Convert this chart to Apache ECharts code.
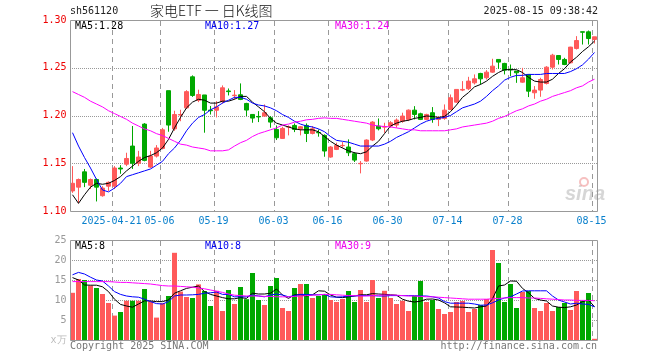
<!DOCTYPE html>
<html>
<head>
<meta charset="utf-8">
<script src="https://cdn.jsdelivr.net/npm/echarts@6/dist/echarts.min.js"></script>
<style>
html,body{margin:0;padding:0;background:#fff;}
#c{width:660px;height:360px;}
</style>
</head>
<body>
<div id="c"></div>
<script>
const dates = [
'2025-04-10','2025-04-11','2025-04-14','2025-04-15','2025-04-16','2025-04-17','2025-04-18',
'2025-04-21','2025-04-22','2025-04-23','2025-04-24','2025-04-25','2025-04-28','2025-04-29','2025-04-30',
'2025-05-06','2025-05-07','2025-05-08','2025-05-09','2025-05-12','2025-05-13','2025-05-14','2025-05-15','2025-05-16',
'2025-05-19','2025-05-20','2025-05-21','2025-05-22','2025-05-23','2025-05-26','2025-05-27','2025-05-28','2025-05-29','2025-05-30',
'2025-06-03','2025-06-04','2025-06-05','2025-06-06','2025-06-09','2025-06-10','2025-06-11','2025-06-12','2025-06-13',
'2025-06-16','2025-06-17','2025-06-18','2025-06-19','2025-06-20','2025-06-23','2025-06-24','2025-06-25','2025-06-26','2025-06-27',
'2025-06-30','2025-07-01','2025-07-02','2025-07-03','2025-07-04','2025-07-07','2025-07-08','2025-07-09','2025-07-10','2025-07-11',
'2025-07-14','2025-07-15','2025-07-16','2025-07-17','2025-07-18','2025-07-21','2025-07-22','2025-07-23','2025-07-24','2025-07-25',
'2025-07-28','2025-07-29','2025-07-30','2025-07-31','2025-08-01','2025-08-04','2025-08-05','2025-08-06','2025-08-07','2025-08-08',
'2025-08-11','2025-08-12','2025-08-13','2025-08-14','2025-08-15'
];
const labelDates = ['2025-04-21','2025-05-06','2025-05-19','2025-06-03','2025-06-16','2025-06-30','2025-07-14','2025-07-28','2025-08-15'];
const priceTicks = [1.15, 1.20, 1.25];
const volTicks = [5, 10, 15, 20];

const openP = [
1.121,1.125,1.141,1.127,1.133,1.116,1.126,1.126,1.145,1.149,
1.168,1.150,1.191,1.146,1.1575,1.1655,1.226,1.186,1.2005,1.208,
1.2405,1.216,1.2215,1.2057,1.2055,1.2145,1.2257,1.2208,1.2217,1.2126,
1.2011,1.1990,1.1994,1.1976,1.1854,1.1760,1.1879,1.1896,1.1861,1.1896,
1.1812,1.1822,1.1792,1.1565,1.1645,1.1684,1.1670,1.1600,1.1495,1.1523,
1.1743,1.1889,1.1879,1.1889,1.1900,1.1941,1.1959,1.2056,1.2018,1.1959,
1.2029,1.1959,1.1969,1.2063,1.2140,1.2266,1.2280,1.2342,1.2440,1.2395,
1.2454,1.2587,1.2545,1.2485,1.2465,1.2349,1.2430,1.2238,1.2266,1.2335,
1.2506,1.2628,1.2587,1.2552,1.2702,1.2877,1.2876,1.2796
];
const closeP = [
1.129,1.133,1.130,1.133,1.125,1.124,1.130,1.145,1.144,1.155,
1.150,1.1565,1.153,1.1575,1.166,1.185,1.190,1.201,1.201,1.225,
1.221,1.222,1.2055,1.205,1.209,1.229,1.2250,1.2213,1.2168,1.2057,
1.1973,1.1985,1.2029,1.1931,1.1767,1.1865,1.1882,1.1854,1.1882,1.1812,
1.1861,1.1819,1.1628,1.1670,1.1687,1.1687,1.1610,1.1533,1.1499,1.1743,
1.1931,1.1861,1.1882,1.1924,1.1952,1.1994,1.2056,1.2011,1.1959,1.2011,
1.1959,1.1976,1.2056,1.2186,1.2273,1.2273,1.2360,1.2384,1.2384,1.2454,
1.2517,1.2559,1.2475,1.2478,1.2447,1.2395,1.2255,1.2266,1.2377,1.2506,
1.2632,1.2587,1.2534,1.2716,1.2785,1.2872,1.2806,1.2824
];
const lowP = [
1.119,1.108,1.125,1.123,1.110,1.115,1.121,1.123,1.139,1.147,
1.144,1.147,1.152,1.145,1.156,1.1645,1.183,1.184,1.194,1.207,
1.2195,1.214,1.182,1.201,1.198,1.2125,1.221,1.2168,1.2161,1.1994,
1.1924,1.1931,1.1987,1.1872,1.1743,1.1757,1.1792,1.1826,1.1792,1.1722,
1.1802,1.1778,1.1568,1.1558,1.1638,1.1663,1.1575,1.1513,1.1394,1.1516,
1.1732,1.1844,1.1819,1.1872,1.1872,1.1924,1.1941,1.1959,1.1952,1.1952,
1.1924,1.1889,1.1955,1.2056,1.2133,1.2255,1.2266,1.2325,1.2325,1.2377,
1.2447,1.2489,1.2430,1.2412,1.2342,1.2342,1.2193,1.2175,1.2196,1.2325,
1.2482,1.2534,1.2527,1.2545,1.2691,1.2743,1.2743,1.2754
];
const highP = [
1.147,1.134,1.144,1.134,1.134,1.126,1.131,1.147,1.148,1.161,
1.189,1.163,1.192,1.163,1.169,1.187,1.226,1.205,1.206,1.2265,
1.242,1.227,1.2215,1.210,1.215,1.2315,1.2283,1.2266,1.2336,1.2133,
1.2011,1.2046,1.2116,1.1994,1.1896,1.1882,1.1896,1.1917,1.1889,1.1917,
1.1889,1.1854,1.1802,1.1680,1.1715,1.1722,1.1750,1.1617,1.1523,1.1750,
1.1941,1.1969,1.1924,1.1941,1.1969,1.2029,1.2063,1.2098,1.2029,1.2018,
1.2088,1.1994,1.2116,1.2220,1.2273,1.2360,1.2405,1.2430,1.2447,1.2475,
1.2594,1.2587,1.2552,1.2534,1.2465,1.2499,1.2430,1.2308,1.2395,1.2517,
1.2646,1.2628,1.2604,1.2719,1.2831,1.2877,1.2890,1.2824
];
const ma5 = [
1.117,1.108,1.117,1.125,1.129,1.128,1.129,1.132,1.136,1.142,
1.147,1.152,1.156,1.158,1.161,1.166,1.175,1.187,1.198,1.208,
1.214,1.217,1.216,1.213,1.213,1.215,1.215,1.217,1.220,1.220,
1.214,1.209,1.204,1.197,1.192,1.190,1.188,1.186,1.185,1.185,
1.185,1.183,1.178,1.173,1.169,1.166,1.163,1.161,1.160,1.162,
1.168,1.173,1.181,1.189,1.192,1.194,1.195,1.197,1.198,1.1995,
1.199,1.198,1.199,1.204,1.211,1.219,1.224,1.230,1.2325,1.236,
1.241,1.245,1.248,1.248,1.248,1.245,1.240,1.236,1.235,1.235,
1.238,1.244,1.249,1.256,1.261,1.267,1.272,1.278
];
const ma10 = [
1.182,1.168,1.156,1.145,1.133,1.122,1.120,1.124,1.129,1.136,
1.138,1.140,1.142,1.144,1.148,1.152,1.160,1.166,1.174,1.184,
1.192,1.198,1.201,1.206,1.209,1.213,1.216,1.219,1.219,1.217,
1.213,1.211,1.210,1.208,1.205,1.201,1.198,1.194,1.191,1.189,
1.188,1.186,1.183,1.178,1.174,1.173,1.172,1.170,1.168,1.168,
1.168,1.168,1.170,1.173,1.177,1.180,1.183,1.187,1.191,1.194,
1.196,1.197,1.198,1.200,1.204,1.208,1.210,1.212,1.215,1.220,
1.226,1.231,1.237,1.240,1.242,1.242,1.243,1.243,1.243,1.244,
1.244,1.244,1.244,1.246,1.249,1.253,1.259,1.266
];
const ma30 = [
1.225,1.222,1.219,1.215,1.212,1.209,1.205,1.202,1.199,1.196,
1.192,1.189,1.186,1.184,1.181,1.179,1.176,1.173,1.170,1.169,
1.167,1.166,1.165,1.163,1.163,1.163,1.164,1.168,1.1715,1.174,
1.178,1.181,1.183,1.185,1.187,1.190,1.191,1.193,1.194,1.1955,
1.196,1.197,1.1975,1.197,1.197,1.196,1.195,1.194,1.193,1.192,
1.190,1.189,1.1885,1.188,1.187,1.186,1.185,1.185,1.184,1.184,
1.184,1.184,1.184,1.185,1.186,1.188,1.189,1.190,1.191,1.192,
1.194,1.197,1.199,1.202,1.205,1.207,1.210,1.212,1.215,1.217,
1.220,1.222,1.224,1.226,1.229,1.231,1.235,1.238
];
const volume = [
11.8,15.25,15.0,13.6,13.0,11.5,9.25,6.1,7.0,9.8,
9.8,9.8,12.75,9.6,5.6,9.2,11.0,21.8,12.1,10.75,
10.5,13.9,12.25,8.5,12.3,7.25,12.5,9.0,13.25,10.2,
16.75,10.0,8.75,13.5,15.5,8.0,7.25,13.0,14.0,14.0,
10.5,11.0,11.5,10.0,9.5,10.25,12.25,9.5,12.5,9.5,
15.0,10.5,12.3,10.5,9.0,9.8,7.25,11.0,14.75,9.5,
10.0,7.75,6.5,7.0,9.5,9.75,7.0,7.75,8.75,10.25,
22.5,19.25,9.5,14.0,8.0,12.0,12.25,8.0,7.25,9.25,
7.25,8.25,9.25,7.5,12.25,9.75,11.75,0.3
];
const volMa5 = [
15.6,15.0,13.75,13.7,13.7,13.3,12.1,10.2,8.9,8.5,
8.2,9.0,9.8,9.75,9.6,9.6,10.0,11.7,12.3,12.9,
13.2,13.5,12.1,11.4,11.0,10.6,10.3,10.3,10.6,10.4,
11.7,11.5,11.5,11.7,12.75,11.25,10.4,11.3,11.3,11.0,
11.3,12.3,12.2,11.25,10.7,10.6,10.8,11.0,11.3,11.3,
11.6,11.5,11.4,11.3,11.2,10.2,9.7,9.5,9.7,10.2,
10.25,10.0,9.3,8.3,8.25,8.2,8.1,8.0,8.3,8.5,
10.3,13.5,13.75,14.75,14.7,12.9,11.8,10.4,10.0,9.75,
8.5,8.2,8.1,8.3,8.75,9.6,10.0,8.3
];
const volMa10 = [
16.3,16.9,16.5,15.7,15.0,14.75,13.5,12.1,11.4,11.0,
10.8,10.7,10.2,9.6,9.1,9.0,9.6,11.0,11.25,11.25,
11.3,11.4,11.7,11.8,12.0,11.4,11.4,10.8,10.8,10.8,
11.25,11.0,10.8,11.25,11.5,11.25,10.8,11.1,11.4,11.4,
11.3,11.3,11.4,10.8,10.7,10.8,11.0,11.0,11.1,11.1,
11.1,11.0,11.0,11.1,11.1,11.1,11.1,11.1,11.0,11.0,
10.8,10.5,9.6,9.2,9.2,9.2,9.2,9.0,8.7,8.75,
9.3,10.0,10.5,10.8,11.5,12.25,12.3,12.3,12.3,12.3,
11.0,10.0,9.5,9.0,9.2,9.0,8.9,8.3
];
const volMa30 = [
14.6,14.6,14.6,14.6,14.6,14.6,14.6,14.5,14.4,14.4,
14.3,14.2,14.1,14.0,13.8,13.6,13.5,13.5,13.4,13.3,
13.2,13.0,12.8,12.5,12.2,11.9,11.5,11.2,11.1,11.0,
11.0,11.0,10.9,10.9,10.8,10.8,10.8,10.9,11.0,11.1,
11.2,11.3,11.4,11.4,11.3,11.2,11.1,11.1,11.0,11.0,
11.1,11.2,11.25,11.25,11.2,11.1,11.0,11.0,10.9,10.8,
10.8,10.7,10.6,10.5,10.4,10.3,10.2,10.2,10.2,10.2,
10.3,10.4,10.5,10.6,10.6,10.6,10.5,10.5,10.4,10.3,
10.2,10.1,10.0,10.0,9.9,9.9,9.9,9.8
];

const UP = '#ff5a5a', DOWN = '#00a800';
const MONO = '"DejaVu Sans Mono", "Liberation Mono", monospace';
const GRIDC = '#999999';
const gridLeft = 69.5, gridWidth = 528;

const candleData = dates.map((d, i) => [openP[i], closeP[i], lowP[i], highP[i]]);
const volData = volume.map((v, i) => ({
  value: v,
  itemStyle: { color: closeP[i] >= openP[i] ? UP : DOWN }
}));
const labelIdx = labelDates.map(d => dates.indexOf(d));
const isLabel = (idx) => labelDates.indexOf(dates[idx]) >= 0;

function xAxisCfg(gi, showLabel) {
  return {
    type: 'category', gridIndex: gi, data: dates, boundaryGap: true,
    axisLine: { show: false }, axisTick: { show: false }, splitLine: { show: false },
    axisLabel: {
      show: showLabel, interval: (idx) => isLabel(idx),
      formatter: (v) => (v === labelDates[0] ? v : v.slice(5)),
      color: '#0a80cc', fontFamily: MONO, fontSize: 10, margin: 5,
      padding: [0, 6, 0, 0]
    }
  };
}

function frame(ai, yVal) {
  return {
    type: 'custom', xAxisIndex: ai, yAxisIndex: ai, silent: true, z: 12,
    data: [[0, yVal]],
    renderItem: (params, api) => {
      const cs = params.coordSys;
      return { type: 'rect',
        shape: { x: Math.round(cs.x) + 0.5, y: Math.round(cs.y) + 0.5, width: Math.round(cs.width) - 1, height: Math.round(cs.height) },
        style: { fill: 'none', stroke: '#999999', lineWidth: 1 } };
    }
  };
}

const textGraphics = [
  { type: 'text', left: 70, top: 6, style: { text: 'sh561120', fill: '#222', font: '10px ' + MONO } },
  { type: 'text', left: 150, top: 4, style: { text: '家电ETF 一 日K线图', fill: '#111', font: '300 14px "Noto Sans CJK SC"' } },
  { type: 'text', right: 62, top: 6, style: { text: '2025-08-15 09:38:42', fill: '#222', font: '10px ' + MONO } },
  { type: 'text', left: 75, top: 21, z: 20, style: { text: 'MA5:1.28', fill: '#000', font: '10px ' + MONO } },
  { type: 'text', left: 205, top: 21, z: 20, style: { text: 'MA10:1.27', fill: '#0000ee', font: '10px ' + MONO } },
  { type: 'text', left: 335, top: 21, z: 20, style: { text: 'MA30:1.24', fill: '#ee00ee', font: '10px ' + MONO } },
  { type: 'text', left: 75, top: 241, z: 20, style: { text: 'MA5:8', fill: '#000', font: '10px ' + MONO } },
  { type: 'text', left: 205, top: 241, z: 20, style: { text: 'MA10:8', fill: '#0000ee', font: '10px ' + MONO } },
  { type: 'text', left: 335, top: 241, z: 20, style: { text: 'MA30:9', fill: '#ee00ee', font: '10px ' + MONO } },
  { type: 'text', left: 70, top: 341, style: { text: 'Copyright 2025 SINA.COM', fill: '#777', font: '10px ' + MONO } },
  { type: 'text', right: 63, top: 341, style: { text: 'http://finance.sina.com.cn', fill: '#777', font: '10px ' + MONO } },
  { type: 'text', left: 565, top: 184, z: 1, style: { text: 'sina', fill: 'rgba(200,200,200,0.75)', font: 'italic bold 20px "Liberation Sans"' } },
  { type: 'circle', shape: { cx: 584, cy: 182, r: 4 }, z: 1, style: { fill: 'none', stroke: 'rgba(240,150,150,0.6)', lineWidth: 2 } }
];

const chart = echarts.init(document.getElementById('c'), null, { renderer: 'canvas' });
chart.setOption({
  animation: false,
  backgroundColor: '#ffffff',
  grid: [
    { left: gridLeft, top: 20, width: gridWidth, height: 191, show: false },
    { left: gridLeft, top: 240, width: gridWidth, height: 100, show: false }
  ],
  xAxis: [xAxisCfg(0, true), xAxisCfg(1, false)],
  yAxis: [
    {
      type: 'value', gridIndex: 0, min: 1.10, max: 1.30, interval: 0.05,
      axisLine: { show: false }, axisTick: { show: false }, splitLine: { show: false },
      axisLabel: { color: '#ee0000', fontFamily: MONO, fontSize: 10, margin: 3, formatter: (v) => v.toFixed(2) }
    },
    {
      type: 'value', gridIndex: 1, min: 0, max: 25, interval: 5,
      axisLine: { show: false }, axisTick: { show: false }, splitLine: { show: false },
      axisLabel: {
        color: '#999999', fontFamily: MONO, fontSize: 10, margin: 3,
        formatter: (v) => (v === 0 ? '{u|x万}' : String(v)),
        rich: { u: { color: '#bbbbbb', fontFamily: MONO, fontSize: 10 } }
      }
    }
  ],
  series: [
    frame(0, 1.2), frame(1, 10),
    {
      type: 'candlestick', xAxisIndex: 0, yAxisIndex: 0, data: candleData, barWidth: 4,
      itemStyle: { color: UP, color0: DOWN, borderColor: UP, borderColor0: DOWN, borderWidth: 1 },
      z: 8
    },
    { type: 'line', xAxisIndex: 0, yAxisIndex: 0, data: ma5, symbol: 'none', lineStyle: { color: '#000000', width: 1 }, z: 9 },
    { type: 'line', xAxisIndex: 0, yAxisIndex: 0, data: ma10, symbol: 'none', lineStyle: { color: '#0000ff', width: 1 }, z: 9 },
    { type: 'line', xAxisIndex: 0, yAxisIndex: 0, data: ma30, symbol: 'none', lineStyle: { color: '#ff00ff', width: 1 }, z: 9 },
    { type: 'bar', xAxisIndex: 1, yAxisIndex: 1, data: volData, barWidth: 5, z: 8 },
    { type: 'line', xAxisIndex: 1, yAxisIndex: 1, data: volMa5, symbol: 'none', lineStyle: { color: '#000000', width: 1 }, z: 9 },
    { type: 'line', xAxisIndex: 1, yAxisIndex: 1, data: volMa10, symbol: 'none', lineStyle: { color: '#0000ff', width: 1 }, z: 9 },
    { type: 'line', xAxisIndex: 1, yAxisIndex: 1, data: volMa30, symbol: 'none', lineStyle: { color: '#ff00ff', width: 1 }, z: 9 }
  ],
  graphic: textGraphics
});

// grid lines positioned through the chart's own scales
const gridGraphics = [];
function addGridLines(ai, yMin, yMax, ticks) {
  const px = (d) => chart.convertToPixel({ xAxisIndex: ai }, d);
  const py = (v) => chart.convertToPixel({ yAxisIndex: ai }, v);
  const band = px(dates[1]) - px(dates[0]);
  const yTop = Math.round(py(yMax)), yBot = Math.round(py(yMin));
  const xL = Math.round(px(dates[0]) - band / 2), xR = Math.round(px(dates[dates.length - 1]) + band / 2);
  labelIdx.forEach(i => {
    const x = Math.round(px(dates[i]) - band / 2) + 0.5;
    for (let y = yTop + 1; y < yBot; y += 9) {
      gridGraphics.push({ type: 'line', silent: true, z: 1,
        shape: { x1: x, y1: y, x2: x, y2: Math.min(y + 5, yBot) },
        style: { stroke: GRIDC, lineWidth: 1 } });
    }
  });
  ticks.forEach(v => {
    const y = Math.round(py(v)) + 0.5;
    for (let x = xL + 2; x < xR - 1; x += 2) {
      gridGraphics.push({ type: 'line', silent: true, z: 1,
        shape: { x1: x, y1: y, x2: x + 1, y2: y },
        style: { stroke: GRIDC, lineWidth: 1 } });
    }
  });
}
addGridLines(0, 1.10, 1.30, priceTicks);
addGridLines(1, 0, 25, volTicks);
chart.setOption({ graphic: textGraphics.concat(gridGraphics) });
</script>
</body>
</html>
